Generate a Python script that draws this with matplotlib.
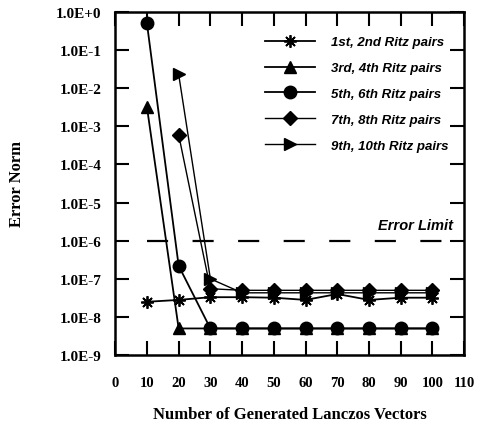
import matplotlib
matplotlib.use("Agg")
import matplotlib.pyplot as plt
from matplotlib.ticker import FixedLocator, FixedFormatter

# Data
x_all = [10, 20, 30, 40, 50, 60, 70, 80, 90, 100]
x_from20 = [20, 30, 40, 50, 60, 70, 80, 90, 100]

err_1_2 = [2.5e-8, 2.8e-8, 3.3e-8, 3.3e-8, 3.2e-8, 2.8e-8, 4.0e-8, 2.8e-8, 3.2e-8, 3.2e-8]
err_3_4 = [3.2e-3, 5.0e-9, 5.0e-9, 5.0e-9, 5.0e-9, 5.0e-9, 5.0e-9, 5.0e-9, 5.0e-9, 5.0e-9]
err_5_6 = [0.5, 2.2e-7, 5.0e-9, 5.0e-9, 5.0e-9, 5.0e-9, 5.0e-9, 5.0e-9, 5.0e-9, 5.0e-9]
err_7_8 = [6.0e-4, 5.5e-8, 5.0e-8, 5.0e-8, 5.0e-8, 5.0e-8, 5.0e-8, 5.0e-8, 5.0e-8]
err_9_10 = [2.3e-2, 1.0e-7, 4.3e-8, 4.3e-8, 4.3e-8, 4.3e-8, 4.3e-8, 4.3e-8, 4.3e-8]

error_limit = 1e-6

y_ticks = [10.0 ** e for e in range(0, -10, -1)]
y_labels = ["1.0E+0", "1.0E-1", "1.0E-2", "1.0E-3", "1.0E-4",
            "1.0E-5", "1.0E-6", "1.0E-7", "1.0E-8", "1.0E-9"]
x_ticks = [0, 10, 20, 30, 40, 50, 60, 70, 80, 90, 100, 110]

serif = "Liberation Serif"
sans = "Liberation Sans"

fig = plt.figure(figsize=(4.82, 4.27), dpi=100)
ax = fig.add_axes([0.239, 0.166, 0.724, 0.804])

ax.plot(x_all, err_1_2, color="black", lw=1.3, marker=(8, 2, 0), ms=9, mew=1.3,
        label="1st, 2nd Ritz pairs")
ax.plot(x_all, err_3_4, color="black", lw=1.3, marker="^", ms=8.5,
        label="3rd, 4th Ritz pairs")
ax.plot(x_all, err_5_6, color="black", lw=1.3, marker="o", ms=9,
        label="5th, 6th Ritz pairs")
ax.plot(x_from20, err_7_8, color="black", lw=1.0, marker="D", ms=7,
        label="7th, 8th Ritz pairs")
ax.plot(x_from20, err_9_10, color="black", lw=1.0, marker=">", ms=8.5,
        label="9th, 10th Ritz pairs")

ax.plot([10, 110], [error_limit, error_limit], color="black", lw=1.6,
        dashes=(9.5, 11))
ax.text(106.5, 2.6e-6, "Error Limit", ha="right", va="center",
        fontfamily=sans, fontweight="bold", fontstyle="italic", fontsize=10.5)

ax.set_yscale("log")
ax.set_xlim(0, 110)
ax.set_ylim(1e-9, 1.0)
ax.yaxis.set_major_locator(FixedLocator(y_ticks))
ax.yaxis.set_major_formatter(FixedFormatter(y_labels))
ax.yaxis.set_minor_locator(FixedLocator([]))
ax.set_xticks(x_ticks)
ax.set_xticklabels([str(v) for v in x_ticks])

ax.tick_params(direction="in", length=10, width=1.5, top=True, right=True)
ax.tick_params(axis="y", labelsize=11, pad=10)
ax.tick_params(axis="x", labelsize=10.5, pad=15)
for lab in ax.get_xticklabels() + ax.get_yticklabels():
    lab.set_fontfamily(serif)
    lab.set_fontweight("bold")
for s in ax.spines.values():
    s.set_linewidth(1.8)

ax.set_xlabel("Number of Generated Lanczos Vectors", fontfamily=serif,
              fontweight="bold", fontsize=12, labelpad=12)
ax.set_ylabel("Error Norm", fontfamily=serif, fontweight="bold",
              fontsize=12, labelpad=22)

leg = ax.legend(loc="upper right", bbox_to_anchor=(1.0, 0.975),
                frameon=False, handlelength=3.8,
                handletextpad=1.2, labelspacing=1.03, borderaxespad=0.9,
                borderpad=0.3,
                prop={"family": sans, "weight": "bold", "style": "italic",
                      "size": 9.5})

fig.savefig("out.png", dpi=100)
